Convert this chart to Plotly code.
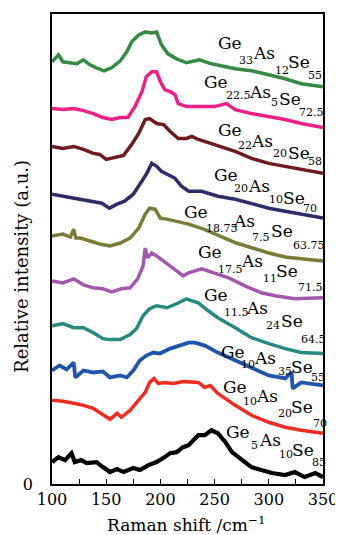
import plotly.graph_objects as go

# Raman shift (cm^-1) and relative intensity (a.u., stacked with offsets)
x_ge33 = [100,106,110,117,123,129,135,141,148,155,163,169,173.5,180,186,192,196.5,201,207,215,224,236,247,269,284,300,315,330,350]
y_ge33 = [424,431,424,423,422,426,421,418,415,418,425,434,444,451,454,453,454,441,432,427,423,426,422,417,415,411,407,402,399]

x_ge225 = [100,110,120,129,138,147,155,163,170,176.5,183,187,192,196.5,200,204,209,213.5,216.5,224,238,250,261,269,284,300,315,330,350]
y_ge225 = [377,376,377,375,372,368,366,368,368,379,394,409,414,414,404,396,394,391,382,379,379,379,382,376,372,369,366,362,358]

x_ge22 = [100,110,120,129,138,144,150,158,166,173.5,180,186,190,196.5,203,209,216.5,224,229,235,247,260,269,284,300,315,330,350]
y_ge22 = [339,337,339,336,332,331,326,328,330,341,352,366,367,362,361,354,347,347,349,346,342,337,334,327,322,319,316,312]

x_ge20 = [100,110,120,129,138,146,153,160,167,175,181,187,192,196.5,201,207,213.5,219.5,226,238,253,269,284,300,315,330,350]
y_ge20 = [291,289,287,286,284,282,277,281,284,291,301,311,322,319,314,311,307,299,294,294,289,286,282,277,274,271,267]

x_ge1875 = [100,110,117,120,122,126,135,144,153.5,163,172,180,186,190,195,200,206,215,226,240,255,270,285,300,315,330,350]
y_ge1875 = [249,251,248,256,247,247,244,241,239,242,247,257,271,277,276,267,266,264,261,256,249,242,237,232,228,226,224]

x_ge175 = [100,110,120,129,138,147,155,164,172,179,184,186,188,192,196.5,203,209,215,221,226,238,253,263,278,293,306,324,350]
y_ge175 = [204,202,206,200,197,196,193,196,197,206,219,237,227,232,229,224,219,214,209,212,216,211,207,199,192,189,186,187]

x_ge115 = [100,110,120,129,138,147,153.5,163,172,178,184,190,196.5,206,215,224,229,235,244,253,269,284,300,315,330,350]
y_ge115 = [159,161,157,157,152,146,145,145,150,156,169,176,179,177,181,186,184,182,174,167,157,147,141,136,132,131]

x_ge10as35 = [100,107,113.5,120,121.5,129,138,147,153.5,163,169,175,181,187,193.5,199.5,209,218,226,232,241,253,269,284,300,315,321,322,330,350]
y_ge10as35 = [114,119,115,122,107,114,112,113,107,109,107,114,124,129,132,131,136,139,142,142,139,132,124,116,109,106,112,96,102,99]

x_ge10as20 = [100,110,120,129,138,147,153.5,160,164,172,180,186,190,194,198,204,212,221,235,241,246,253,269,284,300,315,330,350]
y_ge10as20 = [84,83,81,79,76,69,65,71,67,74,84,92,102,106,101,102,101,103,102,97,99,91,79,69,62,57,54,51]

x_ge5 = [100,106,112,118,121,127,132,141,147,153.5,160,166,175,181,189,196.5,204,209,215,221,226,229,235,241,247,253,260,266,272,278,284,293,303,315,324,333,343,350]
y_ge5 = [22,27,24,31,22,24,21,22,17,12,15,12,16,14,19,22,27,31,32,37,39,42,49,49,54,51,42,32,27,21,17,14,11,9,12,7,11,7]

x_ticks = [100, 150, 200, 250, 300, 350]
y_ticks = [0]

series = [
    (x_ge33, y_ge33, "#358a44", 3.5),
    (x_ge225, y_ge225, "#ee1f85", 3.5),
    (x_ge22, y_ge22, "#6e1b1f", 3.5),
    (x_ge20, y_ge20, "#2c2d6b", 3.5),
    (x_ge1875, y_ge1875, "#7d7a36", 3.5),
    (x_ge175, y_ge175, "#a458ac", 3.5),
    (x_ge115, y_ge115, "#278a80", 3.5),
    (x_ge10as35, y_ge10as35, "#2055ae", 3.8),
    (x_ge10as20, y_ge10as20, "#f22b22", 3.5),
    (x_ge5, y_ge5, "#000000", 4.2),
]

# Composition labels: (text, page-pixel x-left, page-pixel y-center, is_subscript)
labels = [
    [("Ge",217,41.5,0),("33",238,59,1),("As",252,51.5,0),("12",274,69,1),("Se",287,60,0),("55",307,74,1)],
    [("Ge",203,80,0),("22.5",225,94,1),("As",248,90,0),("5",270,101,1),("Se",278,97,0),("72.5",298,111,1)],
    [("Ge",217,128,0),("22",237,144,1),("As",250,140,0),("20",272,152,1),("Se",287,152,0),("58",307,160,1)],
    [("Ge",213,174,0),("20",233,187,1),("As",247,185,0),("10",268,198,1),("Se",282,197,0),("70",302,207,1)],
    [("Ge",183,211,0),("18.75",205,227,1),("As",232,220,0),("7.5",251,236,1),("Se",270,230,0),("63.75",292,244,1)],
    [("Ge",197,251.5,0),("17.5",217,268.5,1),("As",240,260,0),("11",262,277.5,1),("Se",275,270,0),("71.5",297,286.5,1)],
    [("Ge",203,294,0),("11.5",223,311.5,1),("As",245,307,0),("24",265,325,1),("Se",280,320,0),("64.5",300,338.5,1)],
    [("Ge",220,351,0),("10",240,363.5,1),("As",253,357,0),("35",277,371.5,1),("Se",290,367,0),("55",310,377.5,1)],
    [("Ge",222,387,0),("10",242,401.5,1),("As",255,396,0),("20",277,413.5,1),("Se",290,407,0),("70",312,423.5,1)],
    [("Ge",225,432,0),("5",250,445,1),("As",258,440,0),("10",278,454,1),("Se",291,450,0),("85",311,462,1)],
]

# page is 343x535 but the html body adds an 8px margin
OFF = 8
PW, PH = 343, 535
W, H = PW - OFF, PH - OFF
L, R, T, B = 52, 323, 12, 484   # plot area in page pixels
FONT = "DejaVu Serif"

def paper(px, py):
    return (px - L) / (R - L), (B - py) / (B - T)

fig = go.Figure()
for xs, ys, col, lw in series:
    fig.add_trace(go.Scatter(x=xs, y=ys, mode="lines",
                             line=dict(color=col, width=lw), showlegend=False,
                             hoverinfo="skip"))

ann = []
for lab in labels:
    for txt, px, py, sub in lab:
        xp, yp = paper(px, py)
        ann.append(dict(text=txt, x=xp, y=yp, xref="paper", yref="paper",
                        xanchor="left", yanchor="middle", showarrow=False,
                        borderpad=0,
                        font=dict(family=FONT, size=11 if sub else 17, color="black")))

# axis titles
xp, yp = paper(186, 524)
ann.append(dict(text="Raman shift /cm<sup>−1</sup>", x=xp, y=yp, xref="paper", yref="paper",
                xanchor="center", yanchor="middle", showarrow=False,
                font=dict(family=FONT, size=17, color="black")))
xp, yp = paper(22, 266)
ann.append(dict(text="Relative intensity (a.u.)", x=xp, y=yp, xref="paper", yref="paper",
                xanchor="center", yanchor="middle", showarrow=False, textangle=-90,
                font=dict(family=FONT, size=18, color="black")))

fig.update_layout(
    width=W, height=H,
    margin=dict(l=L - OFF, r=PW - R, t=T - OFF, b=PH - B, pad=0),
    paper_bgcolor="white", plot_bgcolor="white",
    annotations=ann,
    xaxis=dict(range=[100, 350], tickvals=x_ticks, ticks="inside", ticklen=5,
               tickwidth=1.2, tickcolor="black",
               minor=dict(dtick=25, tick0=100, ticks="inside", ticklen=5, tickwidth=1.2, tickcolor="black"),
               showline=True, linecolor="black", linewidth=1.5, mirror=True,
               showgrid=False, zeroline=False,
               tickfont=dict(family=FONT, size=16, color="black")),
    yaxis=dict(range=[0, B - T], tickvals=y_ticks, ticktext=["0"], ticks="",
               showline=True, linecolor="black", linewidth=1.5, mirror=True,
               showgrid=False, zeroline=False, ticklabelstandoff=14,
               tickfont=dict(family=FONT, size=16, color="black")),
)

fig.write_html("out.html")
